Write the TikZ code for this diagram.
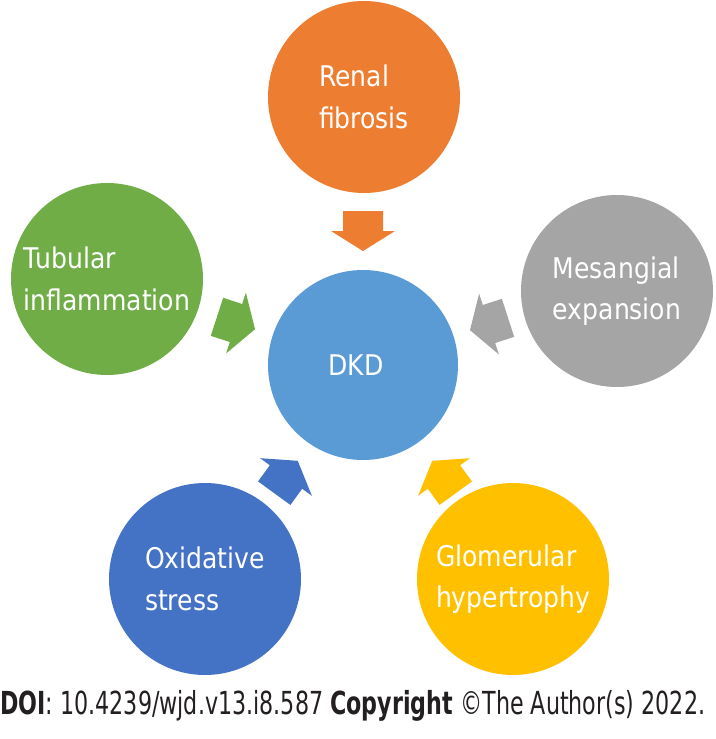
\documentclass[tikz,border=0pt]{standalone}
\usepackage{fontspec}
\setmainfont{DejaVu Sans}[FakeStretch=0.88]
\newfontfamily\footfont{DejaVu Sans}[FakeStretch=0.7]
\usepackage{graphicx}
\definecolor{cOrange}{HTML}{ED7D31}
\definecolor{cGreen}{HTML}{70AD47}
\definecolor{cGray}{HTML}{A5A5A5}
\definecolor{cBlue}{HTML}{4472C4}
\definecolor{cGold}{HTML}{FFC000}
\definecolor{cLight}{HTML}{5B9BD5}
\definecolor{cText}{HTML}{231F20}
\newcommand\blkarrow[4]{%
  \begin{scope}[shift={(#1,#2)}, rotate=#3]
    \fill[#4] (-20,-20) -- (0,-20) -- (0,-32) -- (20,0) -- (0,32) -- (0,20) -- (-20,20) -- cycle;
  \end{scope}}
\begin{document}
\begin{tikzpicture}[x=1pt,y=-1pt,
  bubble/.style={circle, minimum size=192pt, inner sep=0pt, text=white, align=left,
    font=\fontsize{28.5}{41.5}\selectfont},
  doi/.style={anchor=west, inner sep=0pt, text=cText, font=\footfont}]
\useasboundingbox (0,0) rectangle (715,739);
% circles
\node[bubble, fill=cLight, minimum size=190pt] (dkd) at (363,365) {DKD\hspace{14pt}};
\node[bubble, fill=cOrange] (renal) at (364,97) {Renal\\fibrosis};
\node[bubble, fill=cGreen] (tub) at (107,279) {Tubular\\inflammation};
\node[bubble, fill=cGray] (mes) at (617,291) {Mesangial\\expansion};
\node[bubble, fill=cBlue] (oxi) at (205,579) {Oxidative\\stress};
\node[bubble, fill=cGold] (glo) at (513,579) {Glomerular\\hypertrophy};
% block arrows
\blkarrow{363}{231}{-90}{cOrange}
\blkarrow{236}{323}{-18}{cGreen}
\blkarrow{489}{324}{198}{cGray}
\blkarrow{286}{477}{54}{cBlue}
\blkarrow{444}{477}{126}{cGold}
% footer
\node[doi] (foot) at (0,706) {\resizebox{705pt}{!}{\textbf{DOI}: 10.4239/wjd.v13.i8.587 \textbf{Copyright} ©The Author(s) 2022.}};
\end{tikzpicture}
\end{document}
